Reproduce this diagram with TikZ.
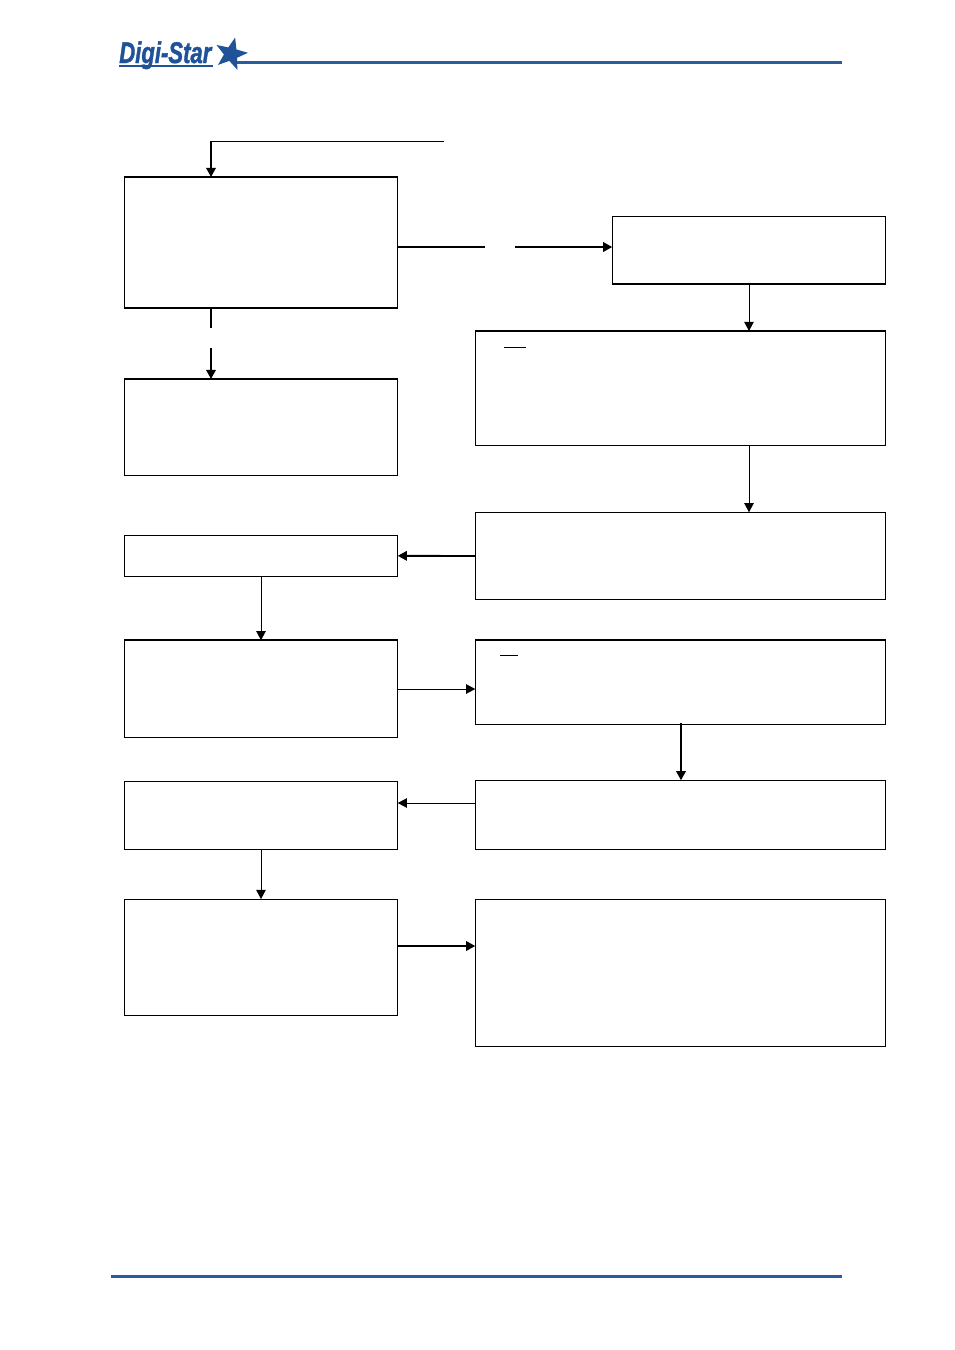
\documentclass[tikz,border=0pt]{standalone}
\usepackage{fontspec}
\setmainfont{Liberation Sans}
\usetikzlibrary{arrows.meta,shapes.geometric}
\definecolor{logoblue}{HTML}{1F5299}
\definecolor{rulesblue}{HTML}{2A5B9B}
\tikzset{
	flowbox/.style={draw,line width=0.5pt,outer sep=0pt,inner sep=0pt},
	heavyrule/.style={line width=1.1pt},
	thinarrow/.style={->,line width=0.5pt},
	thickarrow/.style={->,line width=1.05pt},
	bluerule/.style={rulesblue,line width=1.7pt}
}
\begin{document}
\begin{tikzpicture}[>={Triangle[length=5.2pt,width=5.4pt]},x=0.02cm,y=-0.02cm]
	\useasboundingbox (0,0) rectangle (955,1350);

	%% Boxes
	\foreach \boxname/\cx/\cy/\w/\h in {
		entry/261/242.5/273.5/131, review/749/250/273.5/67.5, setup/680.5/388/410.5/114,
		notice/261/427/273.5/96, adjust/680.5/556/410.5/87.5, select/261/555.8/273.5/41.5,
		weigh/261/689/273.5/97.5, check/680.5/682.3/410.5/84.5, store/261/815.3/273.5/68.5,
		save/680.5/815/410.5/69.5, result/261/957.3/273.5/116.5, finish/680.5/973/410.5/147.5} {
		\node [flowbox,minimum width=\w*0.02cm,minimum height=\h*0.02cm] (\boxname) at (\cx,\cy) {};
	}

	%% Heavier edges
	\draw [heavyrule] (entry.north west) -- (entry.north east);
	\draw [heavyrule] (entry.south west) -- (entry.south east);
	\draw [heavyrule] (review.south west) -- (review.south east);
	\draw [heavyrule] (setup.north west) -- (setup.north east);
	\draw [heavyrule] (notice.north west) -- (notice.north east);
	\draw [heavyrule] (weigh.north west) -- (weigh.north east);
	\draw [heavyrule] (check.north west) -- (check.north east);

	%% Loose ends
	\coordinate (loopstart) at (444,141);
	\coordinate (loopcorner) at (211,141);
	\coordinate (yesout) at (398,247);
	\coordinate (yesgapa) at (485,247);
	\coordinate (yesgapb) at (515,247);
	\coordinate (noout) at (211,308);
	\coordinate (nogapa) at (211,328);
	\coordinate (nogapb) at (211,348);
	\coordinate (savewest) at (475,803);
	\coordinate (checkout) at (681,723);
	\coordinate (resulteast) at (398,946);
	\coordinate (marka) at (504,347);
	\coordinate (markb) at (526,347);
	\coordinate (markc) at (500,655);
	\coordinate (markd) at (518,655);

	%% Connectors
	\draw [line width=0.5pt] (loopstart) -- (loopcorner);
	\draw [thickarrow] (loopcorner) -- (entry.north -| loopcorner);
	\draw [line width=1.05pt] (yesout) -- (yesgapa);
	\draw [thickarrow] (yesgapb) -- (review.west |- yesgapb);
	\draw [line width=1.05pt] (noout) -- (nogapa);
	\draw [thickarrow] (nogapb) -- (notice.north -| nogapb);
	\draw [thinarrow] (review.south) -- (setup.north -| review.south);
	\draw [thinarrow] (setup.south -| review.south) -- (adjust.north -| review.south);
	\draw [thickarrow] (adjust.west) -- (select.east);
	\draw [thinarrow] (select.south) -- (weigh.north);
	\draw [thinarrow] (weigh.east) -- (weigh.east -| check.west);
	\draw [thickarrow] (checkout) -- (save.north -| checkout);
	\draw [thinarrow] (savewest) -- (store.east |- savewest);
	\draw [thinarrow] (store.south) -- (result.north);
	\draw [thickarrow] (resulteast) -- (finish.west |- resulteast);

	%% Underlines
	\draw [line width=0.5pt] (marka) -- (markb);
	\draw [line width=0.5pt] (markc) -- (markd);

	%% Logo and page rules
	\node [logoblue,inner sep=0pt,anchor=base west,xscale=0.74,font=\bfseries\itshape\fontsize{17}{17}\selectfont\addfontfeature{FakeBold=1.6}] (brand) at (119,63) {Digi-Star};
	\node [star,star points=5,star point ratio=2.4,fill=logoblue,inner sep=0pt,minimum size=34*0.02cm,rotate=-14] (brandstar) at (231,54) {};
	\coordinate (brandrule) at (119,66);
	\coordinate (brandruleend) at (213,66);
	\draw [logoblue,line width=0.8pt] (brandrule) -- (brandruleend);
	\coordinate (headera) at (237,62);
	\coordinate (headerb) at (842,62);
	\coordinate (footera) at (111,1276);
	\coordinate (footerb) at (842,1276);
	\draw [bluerule] (headera) -- (headerb);
	\draw [bluerule] (footera) -- (footerb);
\end{tikzpicture}
\end{document}
